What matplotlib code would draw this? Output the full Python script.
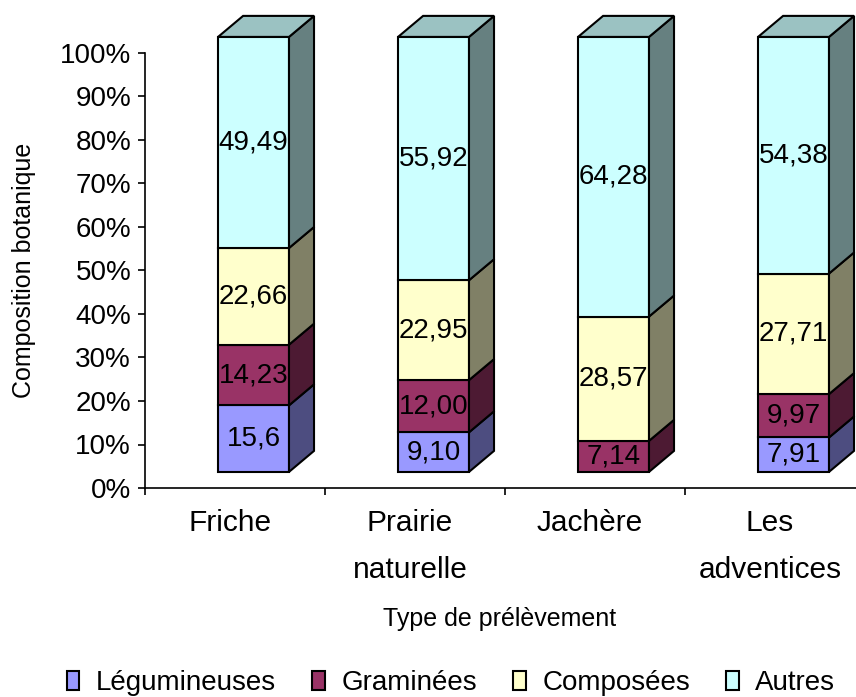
import numpy as np
import matplotlib
matplotlib.use("Agg")
import matplotlib.pyplot as plt
from matplotlib.patches import Polygon, Rectangle, Patch
from matplotlib.transforms import ScaledTranslation

plt.rcParams['font.family'] = ['Liberation Sans', 'DejaVu Sans']

categories = ["Friche", "Prairie\nnaturelle", "Jachère", "Les\nadventices"]
series = ["Légumineuses", "Graminées", "Composées", "Autres"]

legumineuses = [15.6, 9.10, 0.0, 7.91]
graminees = [14.23, 12.00, 7.14, 9.97]
composees = [22.66, 22.95, 28.57, 27.71]
autres = [49.49, 55.92, 64.28, 54.38]

legumineuses_lbl = ["15,6", "9,10", "", "7,91"]
graminees_lbl = ["14,23", "12,00", "7,14", "9,97"]
composees_lbl = ["22,66", "22,95", "28,57", "27,71"]
autres_lbl = ["49,49", "55,92", "64,28", "54,38"]

front_cols = ['#9999FF', '#993366', '#FFFFCC', '#CCFFFF']

values = np.array([legumineuses, graminees, composees, autres])
labels = [legumineuses_lbl, graminees_lbl, composees_lbl, autres_lbl]
shares = values / values.sum(axis=0) * 100


def shade(c, f):
    r, g, b = matplotlib.colors.to_rgb(c)
    return (r * f, g * f, b * f)


fig = plt.figure(figsize=(8.56, 6.97), dpi=100)
ax = fig.add_axes([145 / 856, 209 / 697, 720 / 856, 435 / 697])
ax.set_xlim(0, 4)
ax.set_ylim(0, 100)

# 3d look: front face shifted, depth offset
left_off, width = 0.406, 0.394
dx, dy = 0.139, 4.83
base = 3.7
lw = 1.5

for j in range(len(categories)):
    x0 = j + left_off
    bottom = base
    top_idx = max(i for i in range(len(series)) if shares[i, j] > 0)
    for i in range(len(series)):
        h = shares[i, j]
        if h <= 0:
            continue
        y0, y1 = bottom, bottom + h
        ax.add_patch(Rectangle((x0, y0), width, h, facecolor=front_cols[i],
                               edgecolor='black', lw=lw, clip_on=False, zorder=3))
        ax.add_patch(Polygon([(x0 + width, y0), (x0 + width + dx, y0 + dy),
                              (x0 + width + dx, y1 + dy), (x0 + width, y1)],
                             closed=True, facecolor=shade(front_cols[i], 0.5),
                             edgecolor='black', lw=lw, clip_on=False, zorder=3))
        if i == top_idx:
            ax.add_patch(Polygon([(x0, y1), (x0 + dx, y1 + dy),
                                  (x0 + width + dx, y1 + dy), (x0 + width, y1)],
                                 closed=True, facecolor=shade(front_cols[i], 0.76),
                                 edgecolor='black', lw=lw, clip_on=False, zorder=3))
        ax.text(x0 + width / 2, (y0 + y1) / 2, labels[i][j], ha='center', va='center',
                fontsize=20, zorder=5)
        bottom = y1

ax.spines['top'].set_visible(False)
ax.spines['right'].set_visible(False)
ax.spines['left'].set_linewidth(1.2)
ax.spines['bottom'].set_linewidth(1.2)

ax.set_yticks(np.arange(0, 101, 10))
ax.set_yticklabels([f"{v}%" for v in range(0, 101, 10)], fontsize=20)
ax.tick_params(axis='y', direction='out', length=5, width=1.2, pad=5)

ax.set_xticks(np.arange(0, 5))
ax.set_xticklabels([])
ax.set_xticks(np.arange(len(categories)) + 0.5, minor=True)
ax.set_xticklabels(categories, minor=True, fontsize=21.5, linespacing=1.85)
ax.tick_params(axis='x', which='major', direction='out', length=5, width=1.2)
ax.tick_params(axis='x', which='minor', length=0, pad=15)
for t in ax.get_xticklabels(minor=True):
    t.set_transform(t.get_transform() + ScaledTranslation(-0.05, 0, fig.dpi_scale_trans))

fig.text(24 / 856, 1 - 270 / 697, "Composition botanique", rotation=90,
         ha='center', va='center', fontsize=18)
fig.text(500 / 856, 1 - 619 / 697, "Type de prélèvement", ha='center', va='center',
         fontsize=18)

handles = [Patch(facecolor=c, edgecolor='black', lw=1.5) for c in front_cols]
fig.legend(handles, series, loc='center', bbox_to_anchor=(451 / 856, 1 - 683 / 697),
           ncol=4, frameon=False, fontsize=20, handlelength=0.45, handleheight=0.65,
           handletextpad=0.6, columnspacing=1.3, borderaxespad=0)

fig.savefig("out.png", dpi=100)
